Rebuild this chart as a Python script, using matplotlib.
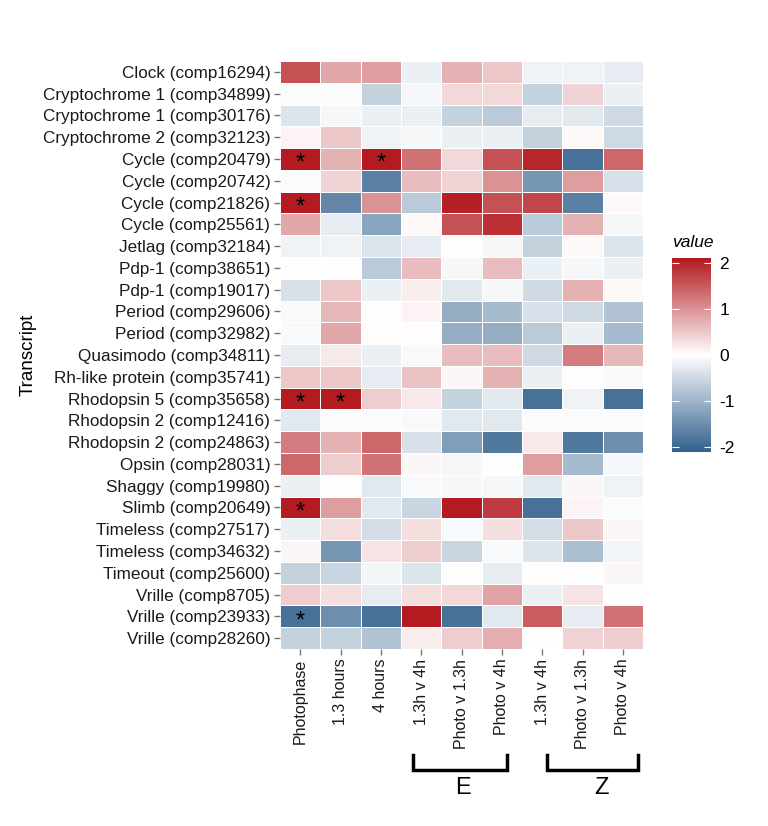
import numpy as np
import matplotlib
matplotlib.use('Agg')
import matplotlib.pyplot as plt
from matplotlib.colors import LinearSegmentedColormap
import matplotlib.transforms as mtransforms

plt.rcParams['font.family'] = ['Liberation Sans', 'DejaVu Sans']

# transcripts, top to bottom
transcripts = [
    'Clock (comp16294)', 'Cryptochrome 1 (comp34899)', 'Cryptochrome 1 (comp30176)',
    'Cryptochrome 2 (comp32123)', 'Cycle (comp20479)', 'Cycle (comp20742)',
    'Cycle (comp21826)', 'Cycle (comp25561)', 'Jetlag (comp32184)',
    'Pdp-1 (comp38651)', 'Pdp-1 (comp19017)', 'Period (comp29606)',
    'Period (comp32982)', 'Quasimodo (comp34811)', 'Rh-like protein (comp35741)',
    'Rhodopsin 5 (comp35658)', 'Rhodopsin 2 (comp12416)', 'Rhodopsin 2 (comp24863)',
    'Opsin (comp28031)', 'Shaggy (comp19980)', 'Slimb (comp20649)',
    'Timeless (comp27517)', 'Timeless (comp34632)', 'Timeout (comp25600)',
    'Vrille (comp8705)', 'Vrille (comp23933)', 'Vrille (comp28260)',
]

conditions = ['Photophase', '1.3 hours', '4 hours',
              '1.3h v 4h', 'Photo v 1.3h', 'Photo v 4h',
              '1.3h v 4h', 'Photo v 1.3h', 'Photo v 4h']

values = [
    [1.6, 0.8, 0.9, -0.2, 0.7, 0.5, -0.15, -0.15, -0.25],
    [-0.05, -0.05, -0.6, -0.1, 0.35, 0.35, -0.6, 0.4, -0.2],
    [-0.35, -0.1, -0.2, -0.2, -0.6, -0.7, -0.25, -0.3, -0.5],
    [0.1, 0.5, -0.15, -0.1, -0.2, -0.2, -0.6, 0.05, -0.5],
    [2.1, 0.7, 2.1, 1.3, 0.35, 1.6, 2.0, -1.9, 1.4],
    [-0.05, 0.4, -1.7, 0.6, 0.4, 1.0, -1.4, 0.9, -0.4],
    [2.1, -1.6, 1.0, -0.7, 2.05, 1.6, 1.7, -1.7, 0.05],
    [0.8, -0.25, -1.2, 0.05, 1.6, 1.9, -0.7, 0.7, -0.1],
    [-0.15, -0.15, -0.35, -0.25, 0.03, -0.1, -0.6, 0.05, -0.35],
    [0.0, 0.0, -0.7, 0.6, -0.1, 0.6, -0.2, -0.1, -0.2],
    [-0.4, 0.5, -0.2, 0.15, -0.3, -0.1, -0.5, 0.7, 0.05],
    [-0.07, 0.65, 0.03, 0.1, -1.1, -0.9, -0.4, -0.5, -0.8],
    [-0.07, 0.8, 0.03, 0.03, -1.1, -1.1, -0.7, -0.2, -0.9],
    [-0.25, 0.2, -0.2, -0.07, 0.6, 0.6, -0.5, 1.2, 0.65],
    [0.5, 0.5, -0.25, 0.55, 0.07, 0.7, -0.2, 0.03, -0.07],
    [2.1, 2.1, 0.45, 0.2, -0.6, -0.3, -1.9, -0.15, -1.9],
    [-0.3, -0.05, -0.05, -0.07, -0.3, -0.3, -0.05, -0.05, -0.05],
    [1.2, 0.7, 1.4, -0.4, -1.3, -1.8, 0.2, -1.8, -1.5],
    [1.4, 0.45, 1.3, 0.07, -0.1, 0.0, 0.9, -0.9, -0.1],
    [-0.2, -0.02, -0.3, -0.07, -0.1, -0.1, -0.3, 0.07, -0.15],
    [2.1, 0.9, -0.3, -0.55, 2.1, 1.8, -1.9, 0.1, -0.05],
    [-0.2, 0.3, -0.45, 0.3, -0.07, 0.3, -0.45, 0.5, 0.07],
    [0.07, -1.4, 0.25, 0.45, -0.55, -0.07, -0.35, -0.85, -0.12],
    [-0.6, -0.55, -0.12, -0.35, -0.02, -0.25, -0.03, -0.03, 0.07],
    [0.45, 0.3, -0.25, 0.3, 0.35, 0.85, -0.2, 0.25, 0.0],
    [-1.9, -1.5, -1.9, 2.1, -1.9, -0.3, 1.5, -0.25, 1.3],
    [-0.6, -0.6, -0.8, 0.15, 0.45, 0.75, 0.0, 0.4, 0.45],
]

# significant cells (row, col)
stars = [(4, 0), (4, 2), (6, 0), (15, 0), (15, 1), (20, 0), (25, 0)]

groups = ['E', 'Z']

data = np.array(values)
cmap = LinearSegmentedColormap.from_list('rwb', ['#32618c', '#ffffff', '#b2191e'])
vmin, vmax = -2.12, 2.12

fig = plt.figure(figsize=(7.68, 8.26), dpi=100)
ax = fig.add_axes([280 / 768, 1 - 649 / 826, 363 / 768, 588 / 826])

mesh = ax.pcolormesh(data, cmap=cmap, vmin=vmin, vmax=vmax,
                     edgecolor='white', linewidth=0.4)
ax.set_xlim(0, len(conditions))
ax.set_ylim(len(transcripts), 0)

ax.set_yticks(np.arange(len(transcripts)) + 0.5)
ax.set_yticklabels(transcripts, fontsize=12.3, color='#1a1a1a')
ax.set_xticks(np.arange(len(conditions)) + 0.5)
ax.set_xticklabels(conditions, rotation=90, fontsize=11.5, color='#1a1a1a')
ax.tick_params(length=4, width=1, color='#777777', pad=3)
for s in ax.spines.values():
    s.set_visible(False)
ax.set_ylabel('Transcript', fontsize=13.5, labelpad=4)

for r, c in stars:
    ax.text(c + 0.5, r + 0.72, '*', ha='center', va='center', fontsize=17, color='black')

# group brackets under the comparison columns
trans = mtransforms.blended_transform_factory(ax.transData, ax.transAxes)
bracket_x = [(3.3, 5.63), (6.62, 8.88)]
label_x = [4.54, 7.98]
for g, (x0, x1), lx in zip(groups, bracket_x, label_x):
    ax.plot([x0, x0, x1, x1], [-0.180, -0.206, -0.206, -0.180], color='black',
            lw=2.5, transform=trans, clip_on=False, solid_joinstyle='miter')
    ax.text(lx, -0.237, g, transform=trans, ha='center', va='center',
            fontsize=17)

# colour bar
cax = fig.add_axes([672 / 768, 1 - 452 / 826, 39 / 768, 194 / 826])
cb = fig.colorbar(mesh, cax=cax, ticks=[-2, -1, 0, 1, 2])
cb.outline.set_visible(False)
cb.ax.tick_params(direction='in', color='white', length=5, width=0.8,
                  left=True, right=True, labelsize=12.5, pad=6)
cb.ax.set_yticklabels(['-2', '-1', '0', '1', '2'])
cax.text(0, 1.04, 'value', transform=cax.transAxes, ha='left', va='bottom',
         fontsize=12.5, style='italic')

fig.savefig('out.png', dpi=100)
